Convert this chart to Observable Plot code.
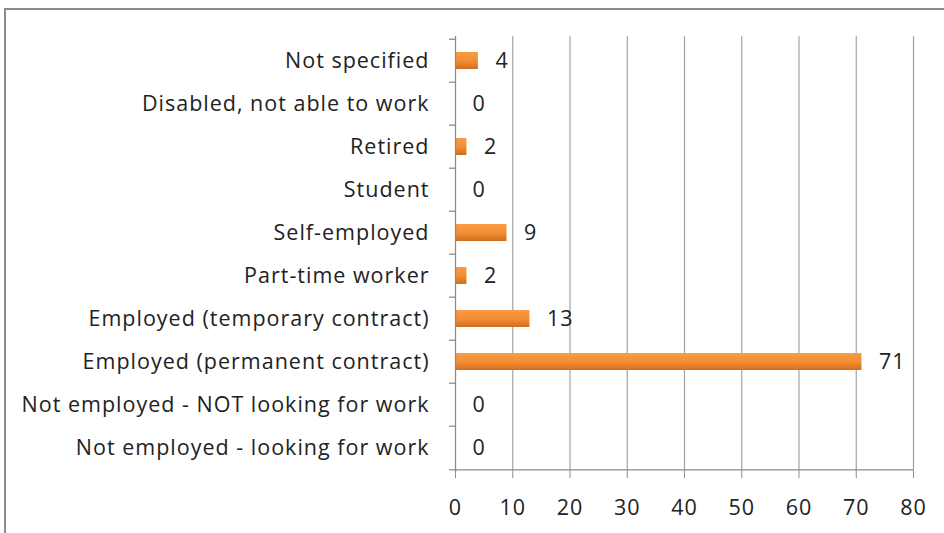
<!DOCTYPE html>
<html>
<head>
<meta charset="utf-8">
<script src="https://cdn.jsdelivr.net/npm/d3@7"></script>
<script src="https://cdn.jsdelivr.net/npm/@observablehq/plot@0.6"></script>
<style>
  html, body { margin: 0; padding: 0; background: #fff; overflow: hidden; }
  #wrap { position: relative; width: 944px; height: 533px; overflow: hidden; }
  #frame { position: absolute; left: 4px; top: 8px; width: 1200px; height: 800px; border: 2px solid #8c8c8c; box-sizing: border-box; }
  #chart { position: absolute; left: 0; top: 0; }
  #chart svg text { letter-spacing: 1px; }
</style>
</head>
<body>
<div id="wrap"><div id="frame"></div><div id="chart"></div></div>
<script>
const categories = [
  "Not specified",
  "Disabled, not able to work",
  "Retired",
  "Student",
  "Self-employed",
  "Part-time worker",
  "Employed (temporary contract)",
  "Employed (permanent contract)",
  "Not employed - NOT looking for work",
  "Not employed - looking for work"
];
const values = [4, 0, 2, 0, 9, 2, 13, 71, 0, 0];
const xTicks = [0, 10, 20, 30, 40, 50, 60, 70, 80];

const data = categories.map((c, i) => ({ category: c, value: values[i] }));

const W = 944, H = 533, mTop = 36, mBottom = 61, mLeft = 455, mRight = 31;
const step = (H - mTop - mBottom) / categories.length;
const tickLen = 6 * 80 / (W - mLeft - mRight); // 6px expressed in x units

const defs = () => {
  const g = d3.create("svg:defs");
  const lg = g.append("linearGradient").attr("id", "barGrad").attr("x1", 0).attr("y1", 0).attr("x2", 0).attr("y2", 1);
  lg.append("stop").attr("offset", "0%").attr("stop-color", "#fa9c46");
  lg.append("stop").attr("offset", "55%").attr("stop-color", "#f28c32");
  lg.append("stop").attr("offset", "100%").attr("stop-color", "#d16c1f");
  const f = g.append("filter").attr("id", "shadow").attr("x", "-10%").attr("y", "-50%").attr("width", "130%").attr("height", "250%");
  f.append("feDropShadow").attr("dx", 1.5).attr("dy", 2).attr("stdDeviation", 1.5).attr("flood-color", "#000").attr("flood-opacity", 0.22);
  return g.node();
};

const font = "'Open Sans', sans-serif";
const fs = 21.5;

const plot = Plot.plot({
  width: W,
  height: H,
  marginTop: mTop,
  marginBottom: mBottom,
  marginLeft: mLeft,
  marginRight: mRight,
  style: { fontFamily: font, fontSize: fs + "px", color: "#222", background: "transparent" },
  x: { domain: [0, 80], ticks: xTicks, label: null },
  y: { domain: categories, padding: 0, label: null },
  marks: [
    defs,
    Plot.ruleX(xTicks.filter(d => d > 0), { stroke: "#a3a3a3", strokeWidth: 1.2 }),
    Plot.barX(data, { x: "value", y: "category", fill: "url(#barGrad)", insetTop: 13, insetBottom: 13, filter: d => d.value > 0, style: "filter:url(#shadow)" }),
    Plot.ruleX([0], { stroke: "#8c8c8c", strokeWidth: 1.3 }),
    Plot.ruleY([categories[categories.length - 1]], { y: d => d, dy: step / 2, x1: 0, x2: 80, stroke: "#8c8c8c", strokeWidth: 1.3 }),
    Plot.ruleY(categories, { y: d => d, dy: -step / 2, x1: -tickLen, x2: 0, stroke: "#8c8c8c", strokeWidth: 1.3 }),
    Plot.ruleY([categories[categories.length - 1]], { y: d => d, dy: step / 2, x1: -tickLen, x2: 0, stroke: "#8c8c8c", strokeWidth: 1.3 }),
    Plot.axisY({ tickSize: 0, tickPadding: 26, fontSize: fs, fill: "#222" }),
    Plot.axisX({ ticks: xTicks, tickSize: 6, tickPadding: 21, stroke: "#8c8c8c", fontSize: fs, fill: "#222" }),
    Plot.text(data, { x: "value", y: "category", text: d => String(d.value), dx: 17, textAnchor: "start", fill: "#222", fontSize: fs })
  ]
});

document.getElementById("chart").appendChild(plot);
</script>
</body>
</html>
